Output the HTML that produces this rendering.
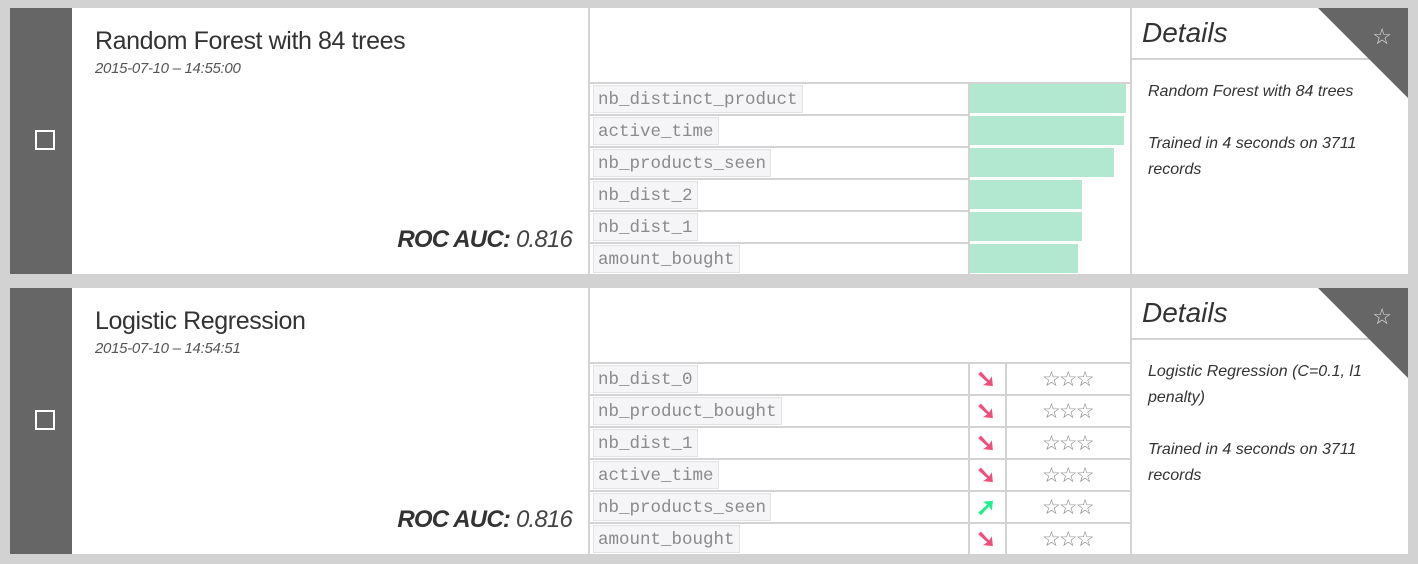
<!DOCTYPE html>
<html><head><meta charset="utf-8"><style>
*{margin:0;padding:0;box-sizing:border-box}
body{width:1418px;height:564px;background:#d1d2d1;position:relative;overflow:hidden;font-family:"Liberation Sans",sans-serif;color:#333}
.card{position:absolute;left:10px;width:1398px;height:266px;background:#fff;overflow:hidden}
.side{position:absolute;left:0;top:0;width:62px;height:266px;background:#666}
.chk{position:absolute;left:25px;top:122px;width:20px;height:20px;border:2px solid #fff}
.title{position:absolute;left:85px;top:19px;font-size:25px;color:#333;letter-spacing:-0.4px}
.date{position:absolute;left:85px;top:52px;font-size:15px;font-style:italic;color:#555;letter-spacing:-0.3px}
.roc{position:absolute;right:836px;top:218px;font-size:24px;font-style:italic;color:#333;letter-spacing:-0.8px}
.roc b{font-weight:bold}
.roc span{font-weight:normal;color:#444}
.vl{position:absolute;top:0;width:2px;height:266px;background:#d3d3d3}
.hl{position:absolute;height:2px;background:#d3d3d3}
.tag{position:absolute;left:583px;height:28px;background:#f5f5f7;border:1px solid #e2e2e4;font-family:"Liberation Mono",monospace;font-size:17.5px;color:#8a8a8a;padding:0 4px;line-height:29px}
.bar{position:absolute;left:960px;height:29px;background:#b3e8d0}
.det{position:absolute;left:1132px;top:9px;font-size:28px;font-style:italic;color:#333}
.tri{position:absolute;right:0;top:0;width:0;height:0;border-top:90px solid #666;border-left:90px solid transparent}
.star{position:absolute;right:16px;top:16px;color:#ddd;font-size:22px}
.txt{position:absolute;left:1138px;font-size:16px;font-style:italic;color:#333;line-height:26px;width:240px}
.arr{position:absolute;left:966px;font-size:24px;font-weight:bold;line-height:24px}
.stars{position:absolute;left:1032px;font-size:21px;color:#888;letter-spacing:-2px;line-height:24px}
</style></head><body>

<div class="card" style="top:8px">
 <div class="side"><div class="chk"></div></div>
 <div class="title">Random Forest with 84 trees</div>
 <div class="date">2015-07-10 – 14:55:00</div>
 <div class="roc"><b>ROC AUC:</b> <span>0.816</span></div>
 <div class="vl" style="left:578px"></div>
 <div class="vl" style="left:1120px"></div>
 <div class="vl" style="left:958px;top:74px;height:192px"></div>
 <div class="hl" style="left:580px;width:540px;top:74px"></div>
 <div class="hl" style="left:580px;width:378px;top:106px"></div>
 <div class="hl" style="left:580px;width:378px;top:138px"></div>
 <div class="hl" style="left:580px;width:378px;top:170px"></div>
 <div class="hl" style="left:580px;width:378px;top:202px"></div>
 <div class="hl" style="left:580px;width:378px;top:234px"></div>
 <div class="tag" style="top:77px">nb_distinct_product</div>
 <div class="tag" style="top:109px">active_time</div>
 <div class="tag" style="top:141px">nb_products_seen</div>
 <div class="tag" style="top:173px">nb_dist_2</div>
 <div class="tag" style="top:205px">nb_dist_1</div>
 <div class="tag" style="top:237px">amount_bought</div>
 <div class="bar" style="top:76px;width:156px"></div>
 <div class="bar" style="top:108px;width:154px"></div>
 <div class="bar" style="top:140px;width:144px"></div>
 <div class="bar" style="top:172px;width:112px"></div>
 <div class="bar" style="top:204px;width:112px"></div>
 <div class="bar" style="top:236px;width:108px"></div>
 <div class="hl" style="left:1122px;width:276px;top:50px"></div>
 <div class="det">Details</div>
 <div class="tri"></div><div class="star">☆</div>
 <div class="txt" style="top:71px">Random Forest with 84 trees</div>
 <div class="txt" style="top:123px">Trained in 4 seconds on 3711 records</div>
</div>

<div class="card" style="top:288px">
 <div class="side"><div class="chk"></div></div>
 <div class="title">Logistic Regression</div>
 <div class="date">2015-07-10 – 14:54:51</div>
 <div class="roc"><b>ROC AUC:</b> <span>0.816</span></div>
 <div class="vl" style="left:578px"></div>
 <div class="vl" style="left:1120px"></div>
 <div class="vl" style="left:958px;top:74px;height:192px"></div>
 <div class="vl" style="left:995px;top:74px;height:192px"></div>
 <div class="hl" style="left:580px;width:540px;top:74px"></div>
 <div class="hl" style="left:580px;width:540px;top:106px"></div>
 <div class="hl" style="left:580px;width:540px;top:138px"></div>
 <div class="hl" style="left:580px;width:540px;top:170px"></div>
 <div class="hl" style="left:580px;width:540px;top:202px"></div>
 <div class="hl" style="left:580px;width:540px;top:234px"></div>
 <div class="tag" style="top:77px">nb_dist_0</div>
 <div class="tag" style="top:109px">nb_product_bought</div>
 <div class="tag" style="top:141px">nb_dist_1</div>
 <div class="tag" style="top:173px">active_time</div>
 <div class="tag" style="top:205px">nb_products_seen</div>
 <div class="tag" style="top:237px">amount_bought</div>
 <div class="arr" style="top:80px;color:#ee4f7a">➘</div>
 <div class="arr" style="top:112px;color:#ee4f7a">➘</div>
 <div class="arr" style="top:144px;color:#ee4f7a">➘</div>
 <div class="arr" style="top:176px;color:#ee4f7a">➘</div>
 <div class="arr" style="top:208px;color:#1ef08c">➚</div>
 <div class="arr" style="top:240px;color:#ee4f7a">➘</div>
 <div class="stars" style="top:80px">☆☆☆</div>
 <div class="stars" style="top:112px">☆☆☆</div>
 <div class="stars" style="top:144px">☆☆☆</div>
 <div class="stars" style="top:176px">☆☆☆</div>
 <div class="stars" style="top:208px">☆☆☆</div>
 <div class="stars" style="top:240px">☆☆☆</div>
 <div class="hl" style="left:1122px;width:276px;top:50px"></div>
 <div class="det">Details</div>
 <div class="tri"></div><div class="star">☆</div>
 <div class="txt" style="top:71px">Logistic Regression (C=0.1, l1 penalty)</div>
 <div class="txt" style="top:149px">Trained in 4 seconds on 3711 records</div>
</div>
</body></html>
